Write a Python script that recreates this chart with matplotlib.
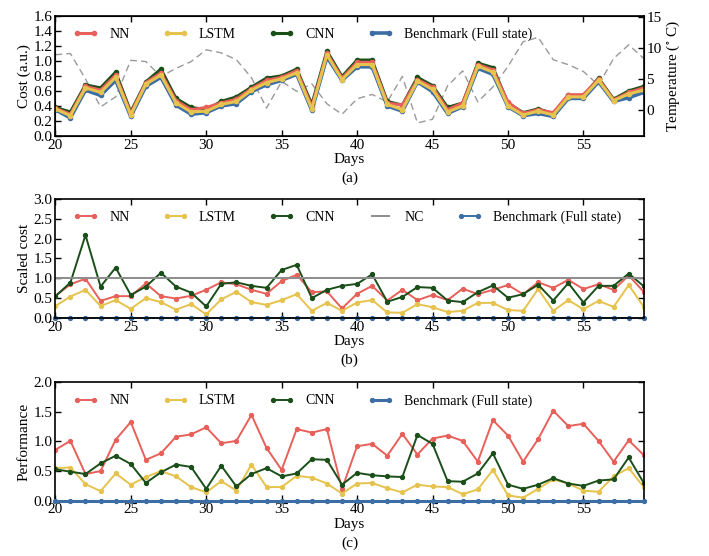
import matplotlib
matplotlib.use("Agg")
import matplotlib.pyplot as plt
import numpy as np

plt.rcParams['font.family'] = ['Liberation Serif', 'DejaVu Serif']
plt.rcParams['mathtext.fontset'] = 'stix'
plt.rcParams['font.size'] = 11

days = list(range(20, 60))

# Panel (a): cost
cost_nn = [0.37, 0.29, 0.66, 0.61, 0.81, 0.30, 0.71, 0.84, 0.47, 0.35,
           0.38, 0.44, 0.49, 0.63, 0.74, 0.78, 0.87, 0.39, 1.10, 0.77,
           0.98, 0.98, 0.44, 0.41, 0.75, 0.65, 0.35, 0.44, 0.95, 0.88,
           0.45, 0.30, 0.35, 0.31, 0.55, 0.55, 0.76, 0.48, 0.58, 0.64]
cost_lstm = [0.36, 0.27, 0.64, 0.58, 0.78, 0.28, 0.69, 0.81, 0.44, 0.32,
             0.33, 0.42, 0.46, 0.61, 0.71, 0.76, 0.84, 0.36, 1.08, 0.75,
             0.95, 0.95, 0.42, 0.35, 0.73, 0.62, 0.32, 0.40, 0.93, 0.85,
             0.40, 0.28, 0.33, 0.28, 0.52, 0.52, 0.74, 0.47, 0.56, 0.61]
cost_cnn = [0.38, 0.32, 0.68, 0.64, 0.85, 0.32, 0.72, 0.89, 0.50, 0.38,
            0.35, 0.46, 0.52, 0.65, 0.77, 0.80, 0.89, 0.42, 1.13, 0.79,
            1.01, 1.01, 0.46, 0.41, 0.78, 0.67, 0.38, 0.44, 0.97, 0.91,
            0.44, 0.31, 0.36, 0.30, 0.54, 0.53, 0.77, 0.49, 0.60, 0.66]
cost_bench = [0.35, 0.24, 0.61, 0.54, 0.74, 0.26, 0.66, 0.78, 0.41, 0.29,
              0.31, 0.40, 0.43, 0.59, 0.68, 0.74, 0.82, 0.34, 1.05, 0.74,
              0.92, 0.92, 0.40, 0.33, 0.72, 0.59, 0.30, 0.39, 0.90, 0.82,
              0.39, 0.27, 0.30, 0.26, 0.50, 0.50, 0.72, 0.46, 0.51, 0.58]
temperature = [8.9, 9.1, 5.0, 0.5, 2.1, 8.0, 7.8, 5.4, 6.7, 7.8,
               9.7, 9.2, 8.1, 5.2, 0.3, 4.6, 3.0, 4.2, 1.0, -0.7,
               1.8, 2.5, 1.3, 5.4, -2.1, -1.5, 3.9, 6.3, 1.3, 3.7,
               7.0, 11.0, 11.7, 8.1, 7.3, 6.2, 4.0, 8.3, 10.5, 8.3]

# Panel (b): scaled cost
sc_nn = [0.55, 0.85, 0.99, 0.43, 0.55, 0.55, 0.87, 0.55, 0.49, 0.56,
         0.71, 0.90, 0.85, 0.71, 0.61, 0.93, 1.09, 0.65, 0.67, 0.24,
         0.61, 0.81, 0.44, 0.71, 0.45, 0.58, 0.45, 0.74, 0.60, 0.71,
         0.83, 0.60, 0.90, 0.76, 0.96, 0.73, 0.85, 0.71, 1.07, 0.66]
sc_lstm = [0.30, 0.54, 0.71, 0.30, 0.45, 0.23, 0.50, 0.40, 0.21, 0.35,
           0.09, 0.47, 0.66, 0.40, 0.33, 0.45, 0.60, 0.18, 0.38, 0.18,
           0.39, 0.45, 0.14, 0.13, 0.35, 0.27, 0.15, 0.18, 0.38, 0.38,
           0.20, 0.18, 0.73, 0.18, 0.45, 0.22, 0.43, 0.28, 0.83, 0.28]
sc_cnn = [0.55, 0.89, 2.09, 0.79, 1.27, 0.58, 0.79, 1.14, 0.79, 0.64,
          0.29, 0.86, 0.90, 0.81, 0.76, 1.21, 1.34, 0.50, 0.71, 0.81,
          0.86, 1.10, 0.41, 0.53, 0.78, 0.76, 0.44, 0.40, 0.65, 0.82,
          0.51, 0.60, 0.84, 0.44, 0.88, 0.39, 0.81, 0.81, 1.12, 0.80]
sc_nc = [1.0] * 40
sc_bench = [0.0] * 40

# Panel (c): performance
pf_nn = [0.86, 1.01, 0.45, 0.50, 1.03, 1.33, 0.69, 0.80, 1.08, 1.12,
         1.24, 0.97, 1.01, 1.45, 0.89, 0.52, 1.21, 1.15, 1.21, 0.20,
         0.92, 0.96, 0.76, 1.13, 0.78, 1.05, 1.10, 1.01, 0.66, 1.36,
         1.10, 0.66, 1.04, 1.52, 1.26, 1.30, 1.01, 0.66, 1.02, 0.77]
pf_lstm = [0.55, 0.56, 0.28, 0.16, 0.46, 0.27, 0.40, 0.50, 0.41, 0.23,
           0.14, 0.33, 0.17, 0.61, 0.23, 0.23, 0.42, 0.39, 0.29, 0.12,
           0.29, 0.30, 0.21, 0.14, 0.27, 0.24, 0.23, 0.11, 0.19, 0.52,
           0.09, 0.05, 0.20, 0.36, 0.29, 0.17, 0.15, 0.41, 0.55, 0.23]
pf_cnn = [0.53, 0.49, 0.45, 0.63, 0.76, 0.62, 0.30, 0.48, 0.61, 0.57,
          0.20, 0.59, 0.24, 0.45, 0.55, 0.41, 0.46, 0.70, 0.69, 0.27,
          0.47, 0.43, 0.41, 0.40, 1.11, 0.96, 0.33, 0.32, 0.46, 0.80,
          0.27, 0.20, 0.27, 0.38, 0.29, 0.25, 0.34, 0.36, 0.73, 0.30]
pf_bench = [0.0] * 40

C_NN = '#e8605a'
C_LSTM = '#e6c24e'
C_CNN = '#1b4f1a'
C_BENCH = '#3c6ea5'
C_NC = '#8c8c8c'

fig = plt.figure(figsize=(7.09, 5.56), dpi=100)
L, W = 0.078, 0.830
ax_a = fig.add_axes([L, 0.7554, W, 0.2164])
ax_b = fig.add_axes([L, 0.4281, W, 0.2140])
ax_c = fig.add_axes([L, 0.0995, W, 0.2129])

LEG = dict(loc='upper left', frameon=False, fontsize=10,
           handlelength=1.8, handletextpad=0.8, columnspacing=2.4,
           numpoints=2, bbox_to_anchor=(0.01, 1.0), borderaxespad=0.45)


def style(ax, right=True):
    ax.tick_params(direction='in', top=True, right=right, length=4, width=1,
                   labelsize=11, pad=2)
    for s in ax.spines.values():
        s.set_linewidth(1.2)
    ax.set_xlim(20, 59)
    ax.set_xticks([20, 25, 30, 35, 40, 45, 50, 55])


# ---- (a)
ax_t = ax_a.twinx()
ax_t.plot(days, temperature, color='#9a9a9a', lw=1.0, dashes=(5, 3))
ax_t.set_ylim(-4.2, 15.2)
ax_t.set_yticks([0, 5, 10, 15])
ax_t.tick_params(direction='in', length=4, width=1, labelsize=11, pad=2)
ax_t.set_ylabel('Temperature ($^{\\circ}$ C)', fontsize=11, labelpad=2)
ax_a.set_zorder(ax_t.get_zorder() + 1)
ax_a.patch.set_visible(False)

lw_a = 2.2
ax_a.plot(days, cost_nn, color=C_NN, lw=lw_a, marker='o', ms=3, label='NN')
ax_a.plot(days, cost_lstm, color=C_LSTM, lw=lw_a, marker='o', ms=3, label='LSTM')
ax_a.plot(days, cost_cnn, color=C_CNN, lw=lw_a, marker='o', ms=3, label='CNN', zorder=1.9)
ax_a.plot(days, cost_bench, color=C_BENCH, lw=2.6, marker='o', ms=3,
          label='Benchmark (Full state)', zorder=1.8)
style(ax_a, right=False)
ax_a.set_ylim(0, 1.6)
ax_a.set_yticks(np.arange(0, 1.61, 0.2))
ax_a.set_yticklabels(['%.1f' % v for v in np.arange(0, 1.61, 0.2)])
ax_a.set_ylabel('Cost (a.u.)', labelpad=2)
ax_a.set_xlabel('Days\n(a)', labelpad=1, linespacing=1.55)
ax_a.legend(ncol=4, **LEG)

# ---- (b)
lw = 1.4
ax_b.plot(days, sc_nn, color=C_NN, lw=lw, marker='o', ms=2.8, label='NN')
ax_b.plot(days, sc_lstm, color=C_LSTM, lw=lw, marker='o', ms=2.8, label='LSTM')
ax_b.plot(days, sc_cnn, color=C_CNN, lw=lw, marker='o', ms=2.8, label='CNN')
ax_b.plot(days, sc_nc, color=C_NC, lw=1.4, label='NC')
ax_b.plot(days, sc_bench, color=C_BENCH, lw=lw, marker='o', ms=2.8,
          label='Benchmark (Full state)', clip_on=False, zorder=2.2)
style(ax_b)
ax_b.set_ylim(0, 3.0)
ax_b.set_yticks(np.arange(0, 3.01, 0.5))
ax_b.set_yticklabels(['%.1f' % v for v in np.arange(0, 3.01, 0.5)])
ax_b.set_ylabel('Scaled cost', labelpad=2)
ax_b.set_xlabel('Days\n(b)', labelpad=1, linespacing=1.55)
ax_b.legend(ncol=5, **LEG)

# ---- (c)
ax_c.plot(days, pf_nn, color=C_NN, lw=lw, marker='o', ms=2.8, label='NN')
ax_c.plot(days, pf_lstm, color=C_LSTM, lw=lw, marker='o', ms=2.8, label='LSTM')
ax_c.plot(days, pf_cnn, color=C_CNN, lw=lw, marker='o', ms=2.8, label='CNN')
ax_c.plot(days, pf_bench, color=C_BENCH, lw=2.2, marker='o', ms=2.8,
          label='Benchmark (Full state)', clip_on=False, zorder=3)
style(ax_c)
ax_c.set_ylim(0, 2.0)
ax_c.set_yticks(np.arange(0, 2.01, 0.5))
ax_c.set_yticklabels(['%.1f' % v for v in np.arange(0, 2.01, 0.5)])
ax_c.set_ylabel('Performance', labelpad=2)
ax_c.set_xlabel('Days\n(c)', labelpad=1, linespacing=1.55)
ax_c.legend(ncol=4, **LEG)

fig.savefig('out.png', dpi=100)
